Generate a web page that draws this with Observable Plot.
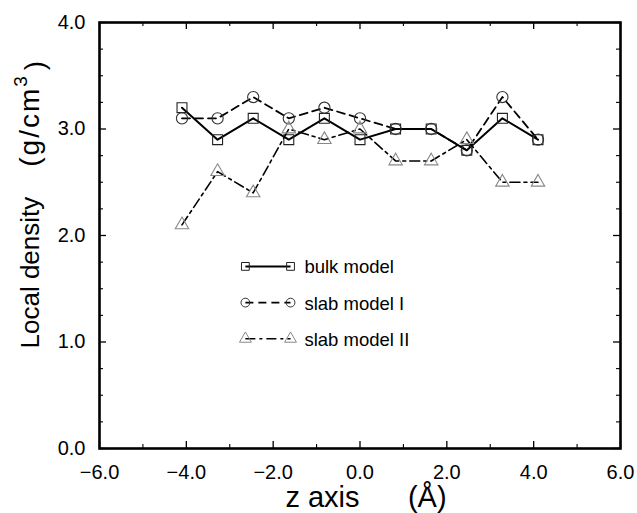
<!DOCTYPE html>
<html>
<head>
<meta charset="utf-8">
<script src="https://cdn.jsdelivr.net/npm/d3@7"></script>
<script src="https://cdn.jsdelivr.net/npm/@observablehq/plot@0.6"></script>
<style>
  html, body { margin: 0; padding: 0; background: white; }
</style>
</head>
<body>
<div id="chart"></div>
<script>
// ---- data ----
const zValues = [-4.1, -3.28, -2.46, -1.64, -0.82, 0, 0.82, 1.64, 2.46, 3.28, 4.1];
const bulkModel = [3.2, 2.9, 3.1, 2.9, 3.1, 2.9, 3.0, 3.0, 2.8, 3.1, 2.9];
const slabModelI = [3.1, 3.1, 3.3, 3.1, 3.2, 3.1, 3.0, 3.0, 2.8, 3.3, 2.9];
const slabModelII = [2.1, 2.6, 2.4, 3.0, 2.9, 3.0, 2.7, 2.7, 2.9, 2.5, 2.5];
const seriesNames = ["bulk model", "slab model I", "slab model II"];
const xTickLabels = [-6, -4, -2, 0, 2, 4, 6];
const xMinorTicks = [-5, -3, -1, 1, 3, 5];
const yTickLabels = [0, 1, 2, 3, 4];
const yMinorTicks = [0.25, 0.5, 0.75, 1.25, 1.5, 1.75, 2.25, 2.5, 2.75, 3.25, 3.5, 3.75];

// ---- styles ----
const seriesValues = [bulkModel, slabModelI, slabModelII];
const symbols = ["square", "circle", "triangle"];
const dashes = [null, "8,5", "10,4,3,4"];
const lineWidths = [2, 1.8, 1.6];
const markerStroke = ["#222", "#333", "#888"];
const markerR = [5.6, 5.6, 5];

const data = seriesNames.flatMap((name, s) =>
  zValues.map((z, i) => ({series: name, x: z, y: seriesValues[s][i]})));

// legend layout (in-plot legend)
const legendX1 = -2.64, legendX2 = -1.60, legendTextX = -1.28;
const legendY = [1.71, 1.37, 1.03];
const legendData = seriesNames.map((name, i) => ({series: name, y: legendY[i], i}));

const W = 637, H = 513;
const mL = 99, mR = 17, mT = 22, mB = 65;
const plotH = H - mT - mB;
const plotW = W - mL - mR;
const font = "'Liberation Sans', Arial, Helvetica, sans-serif";

const marks = [
  // ticks inward on all four sides
  Plot.ruleX(xTickLabels, {insetTop: plotH - 7, strokeWidth: 1.3}),
  Plot.ruleX(xTickLabels, {insetBottom: plotH - 7, strokeWidth: 1.3}),
  Plot.ruleX(xMinorTicks, {insetTop: plotH - 4, strokeWidth: 1.1}),
  Plot.ruleX(xMinorTicks, {insetBottom: plotH - 4, strokeWidth: 1.1}),
  Plot.ruleY(yTickLabels, {insetRight: plotW - 7, strokeWidth: 1.3}),
  Plot.ruleY(yTickLabels, {insetLeft: plotW - 7, strokeWidth: 1.3}),
  Plot.ruleY(yMinorTicks, {insetRight: plotW - 4, strokeWidth: 1.1}),
  Plot.ruleY(yMinorTicks, {insetLeft: plotW - 4, strokeWidth: 1.1}),
  Plot.axisX(xTickLabels, {tickSize: 0, tickPadding: 16, tickFormat: d3.format(".1f"), label: null, fontSize: 20}),
  Plot.axisY(yTickLabels, {tickSize: 0, tickPadding: 14, tickFormat: d3.format(".1f"), label: null, fontSize: 20}),
  Plot.frame({strokeWidth: 2.6})
];

seriesNames.forEach((name, s) => {
  const d = data.filter(r => r.series === name);
  marks.push(Plot.line(d, {x: "x", y: "y", stroke: "black", strokeWidth: lineWidths[s], strokeDasharray: dashes[s]}));
  marks.push(Plot.dot(d, {x: "x", y: "y", symbol: symbols[s], r: markerR[s], stroke: markerStroke[s], strokeWidth: 1.1, fill: "none"}));
  const ld = legendData.filter(r => r.series === name);
  marks.push(Plot.link(ld, {x1: () => legendX1, x2: () => legendX2, y1: "y", y2: "y", stroke: "black", strokeWidth: lineWidths[s], strokeDasharray: dashes[s]}));
  marks.push(Plot.dot(ld, {x: () => legendX1, y: "y", symbol: symbols[s], r: 4.4, stroke: markerStroke[s], strokeWidth: 1, fill: "none"}));
  marks.push(Plot.dot(ld, {x: () => legendX2, y: "y", symbol: symbols[s], r: 4.4, stroke: markerStroke[s], strokeWidth: 1, fill: "none"}));
  marks.push(Plot.text(ld, {x: () => legendTextX, y: "y", text: "series", textAnchor: "start", fontSize: 18.5, dy: 1}));
});

// axis titles
marks.push(Plot.text(["z axis\u00a0\u00a0\u00a0\u00a0\u00a0\u00a0(Å)"], {frameAnchor: "bottom", dy: 58, dx: 6, fontSize: 29, lineAnchor: "bottom"}));
marks.push(Plot.text(["Local density (g/cm3)"], {frameAnchor: "left", textAnchor: "start", dx: -69, dy: 113, rotate: -90, fontSize: 26}));

const chart = Plot.plot({
  width: W, height: H,
  marginLeft: mL, marginRight: mR, marginTop: mT, marginBottom: mB,
  x: {domain: [-6, 6]},
  y: {domain: [0, 4]},
  style: {fontFamily: font, fontSize: "20px", color: "black", background: "white"},
  marks
});
document.getElementById("chart").appendChild(chart);

// superscript 3 and spacing in unit label
d3.select(chart).selectAll("text").each(function() {
  const t = d3.select(this);
  if (t.text() === "Local density (g/cm3)") {
    t.text(null);
    t.append("tspan").text("Local density");
    t.append("tspan").attr("dx", 30).attr("font-size", "28px").attr("letter-spacing", "2px").text("(g/cm");
    t.append("tspan").attr("dy", "-0.6em").attr("font-size", "19px").text("3");
    t.append("tspan").attr("dy", "0.6em").attr("dx", 6).attr("font-size", "28px").text(")");
  }
});
</script>
</body>
</html>
